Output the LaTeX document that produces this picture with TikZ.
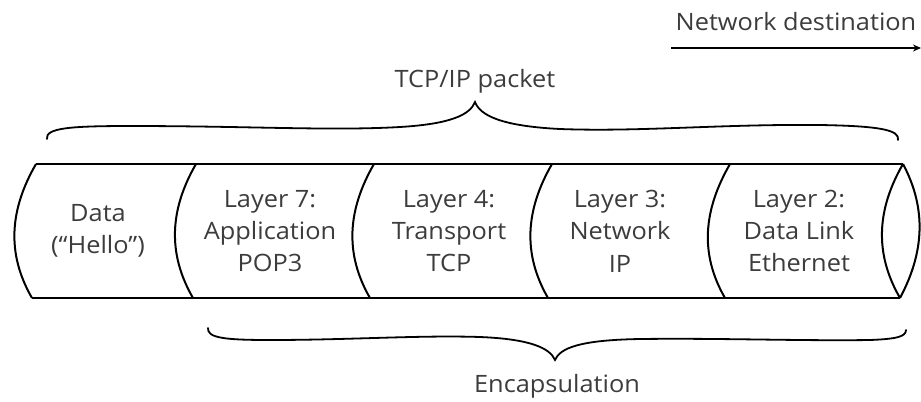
\documentclass[tikz,border=0pt]{standalone}
\usepackage{fontspec}
\setmainfont{Open Sans}[FakeStretch=1.06]
\usetikzlibrary{arrows.meta}
\definecolor{ink}{HTML}{3C3C3C}
\begin{document}
\begin{tikzpicture}[x=1bp,y=-1bp,
  tube/.style={line width=2bp, black, line join=round},
  brace/.style={line width=1.8bp, black, line cap=round},
  label/.style={text=ink, font=\fontsize{24}{32.5}\selectfont, inner sep=0pt},
  cell/.style={label, align=center}]
\useasboundingbox (0,0) rectangle (921,401);

% the packet drawn as a tube: outline, then the curved seams between layers
\draw[tube] (36,164) -- (903,164);
\draw[tube] (32,298) -- (900,298);
\foreach \t/\b in {36/32, 196/193, 374/370, 552/548, 730/725, 903/900}
  \draw[tube] (\t,164) .. controls (\t-26,209) and (\b-26,253) .. (\b,298);
\draw[tube] (903,164) .. controls (927,209) and (924,253) .. (900,298);

% contents of each section
\node[cell] (data) at (98,231) {Data\\(“Hello”)};
\node[cell] (l7) at (270,231) {Layer 7:\\Application\\POP3};
\node[cell] (l4) at (449,231) {Layer 4:\\Transport\\TCP};
\node[cell] (l3) at (620,231) {Layer 3:\\Network\\IP};
\node[cell] (l2) at (799,231) {Layer 2:\\Data Link\\Ethernet};

% brace over the whole packet
\draw[brace] (47,139) .. controls (45,128) and (70,126) .. (130,126)
  .. controls (250,126) and (330,131) .. (400,127)
  .. controls (450,124) and (470,115) .. (475,102)
  .. controls (480,115) and (500,126) .. (560,129)
  .. controls (640,132) and (720,124) .. (820,125)
  .. controls (880,126) and (900,130) .. (898,140);
\node[label, anchor=base] (packet) at (475,87) {TCP/IP packet};

% brace under the encapsulating layers
\draw[brace] (208,328) .. controls (207,338) and (225,340) .. (270,340)
  .. controls (350,340) and (420,335) .. (480,337)
  .. controls (530,339) and (550,348) .. (555,360)
  .. controls (560,348) and (580,340) .. (640,339)
  .. controls (720,338) and (800,341) .. (870,340)
  .. controls (895,339) and (906,337) .. (906,330);
\node[label, anchor=base] (encap) at (557,392) {Encapsulation};

% direction of travel
\node[label, anchor=base] (dest) at (796,30) {Network destination};
\coordinate (dstart) at (671,48);
\coordinate (dend) at (921,48);
\draw[line width=2bp, -{Stealth[length=8bp,width=7bp]}] (dstart) -- (dend);
\end{tikzpicture}
\end{document}
